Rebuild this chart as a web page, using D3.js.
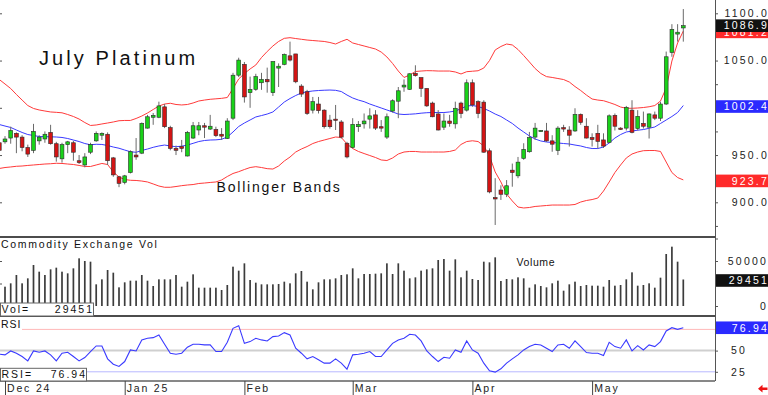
<!DOCTYPE html>
<html>
<head>
<meta charset="utf-8">
<script src="https://cdn.jsdelivr.net/npm/d3@7"></script>
<style>
  body { margin: 0; background: #fff; }
  text { font-family: "Liberation Sans", Arial, sans-serif; }
</style>
</head>
<body>
<svg id="chart" width="768" height="395"></svg>
<script>
// July platinum, daily bars from early Dec 24 to late May 25
// bar 0 sits just left of the frame and is mostly clipped

const opens = [963, 964, 968, 973, 969, 958, 955, 965, 967, 974, 962,
  946, 961, 963, 944, 939.5, 953, 965, 971, 972, 947,
  927, 921, 931.5, 950, 952, 978.5, 990, 990, 1001, 979,
  957, 959, 949, 968, 976.5, 981, 977.5, 977, 972, 967.5,
  989, 1034.5, 1046, 1016, 1019.5, 1026.5, 1030, 1016, 1042, 1046,
  1055, 1057, 1023, 1017, 997.5, 1004, 997.5, 987, 988, 985,
  962.5, 958, 980, 983, 988, 992.5, 980, 969, 996.5, 1007,
  1022, 1019.5, 1036.5, 1032, 1020.5, 1005, 993.5, 979.5, 986, 983,
  1005, 997.5, 1026.5, 1006.5, 1006, 954.5, 905, 913, 908.5, 934,
  928, 946.5, 953.5, 969, 975.5, 975.5, 965, 955, 979, 976.5,
  975.5, 993, 980.5, 968.5, 973, 966, 963.5, 992, 978.5, 978.5,
  997.5, 978, 983.5, 979.5, 992.5, 989, 1004, 1058.5, 1078, 1084.5];

const highs = [964, 970, 980, 974, 971, 961, 983, 971, 975, 982, 964,
  963, 965, 965, 950, 952, 963, 975, 974, 974, 948,
  928, 929, 955, 968, 984.5, 992.5, 994.5, 1006.5, 1004, 981,
  960, 966, 975.5, 985, 985, 984, 992.5, 980, 978.5, 989,
  1037, 1053, 1048.5, 1033, 1036, 1037, 1042.5, 1049, 1047, 1057.5,
  1070, 1057, 1025, 1019, 1011.5, 1011.5, 998.5, 992.5, 1003, 987,
  964, 989, 986, 994, 999.5, 997.5, 987, 994, 1009, 1022,
  1030, 1036.5, 1045, 1032, 1020.5, 1006.5, 997.5, 994, 992.5, 1006.5,
  1006.5, 1030, 1030, 1008, 1008, 957, 925.5, 918, 923.5, 941,
  948, 962.5, 974.5, 984, 976.5, 984, 971, 980.5, 982, 980.5,
  999.5, 994, 989, 973, 982, 973, 993, 994, 979.5, 1002,
  1008, 997.5, 996, 994, 996, 1006.5, 1059.5, 1088.5, 1088.5, 1104.5];

const lows = [948, 962, 962, 952, 954, 948, 952, 961, 963, 961, 943,
  942, 952, 944, 940.5, 937, 951, 964, 966, 939.5, 927,
  916, 919, 930.5, 945, 951, 978, 982, 989, 978.5, 955,
  950, 953, 948.5, 967, 971, 968, 976.5, 969, 966, 967,
  987, 1032.5, 1005.5, 1000, 1018, 1019, 1016, 1012.5, 1022, 1045,
  1049, 1026, 1011.5, 992.5, 994, 994, 978, 978, 976.5, 967.5,
  946.5, 957, 974.5, 978, 978, 976.5, 974.5, 967, 995, 989,
  1017, 1019, 1033, 1011.5, 1001, 990, 976, 976.5, 980, 978,
  989, 996, 1001, 989, 952.5, 909.5, 876, 902.5, 905.5, 916.5,
  925.5, 945, 952.5, 966, 975, 964, 953.5, 950, 974.5, 959,
  974.5, 982, 967.5, 959, 957, 957.5, 962.5, 976, 976.5, 976,
  973, 976, 978, 967.5, 987, 986, 1003, 1054, 1070, 1070];

const closes = [955, 967, 976, 969, 958, 951, 975, 969, 972, 962, 948,
  961, 964, 953, 942, 948, 961, 973, 973, 944, 929,
  920, 928, 953.5, 948, 983.5, 990.5, 992, 1002, 980, 957,
  955, 957, 974, 981, 981, 979.5, 980.5, 970.5, 970, 986,
  1034.5, 1050.5, 1011.5, 1019.5, 1033, 1030, 1027.5, 1049, 1044, 1056.5,
  1050.5, 1027.5, 1014.5, 994, 1006.5, 997, 980, 980, 987, 969,
  948, 982.5, 982.5, 986, 991.5, 978.5, 978.5, 990.5, 1007.5, 1018,
  1024, 1036, 1034, 1020.5, 1002, 990.5, 976.5, 986, 983.5, 999.5,
  994, 1026.5, 1003, 994, 953, 911, 903.5, 908.5, 917.5, 931.5,
  942.5, 956, 968.5, 978.5, 976, 965, 961.5, 978.5, 977.5, 971,
  993, 984.5, 968, 966.5, 964.5, 959.5, 991.5, 980.5, 977, 1000.5,
  974, 991, 980.5, 993.5, 989, 1004, 1054, 1083, 1080, 1086.9];

const upperBand = [1029.9, 1025.2, 1020.4, 1014.1, 1008.2, 1002.4, 999.3, 997.7, 996.6, 995.6, 995.2,
  994.7, 992.9, 990.8, 988.1, 984.4, 981.3, 981.8, 982.9, 983.9, 985.0,
  986.3, 986.6, 986.6, 988.7, 991.3, 994.5, 998.2, 1001.9, 1004.0, 1004.8,
  1003.5, 1003.0, 1003.5, 1005.1, 1007.2, 1008.2, 1009.0, 1009.5, 1010.0, 1010.9,
  1020.4, 1030.5, 1036.3, 1041.1, 1045.3, 1053.2, 1059.6, 1065.4, 1070.2, 1073.5,
  1074.2, 1073.3, 1072.5, 1071.7, 1071.2, 1070.7, 1070.2, 1069.1, 1067.5, 1070.2,
  1072.5, 1068.6, 1067.0, 1065.4, 1063.8, 1062.2, 1059.0, 1053.8, 1046.9, 1038.9,
  1032.1, 1034.7, 1038.4, 1038.9, 1039.3, 1039.2, 1038.9, 1038.9, 1038.9, 1037.9,
  1035.8, 1038.2, 1038.7, 1039.2, 1042.1, 1050.0, 1061.2, 1064.9, 1067.5, 1066.5,
  1061.7, 1055.3, 1048.5, 1041.6, 1036.3, 1033.0, 1032.1, 1031.0, 1029.9, 1027.3,
  1022.5, 1018.3, 1013.5, 1009.3, 1008.2, 1007.5, 1005.6, 1003.5, 1000.8, 999.5,
  999.5, 999.8, 1000.3, 1001.1, 1002.4, 1007.2, 1021.0, 1049.5, 1068.6, 1081.2];

const midBand = [982.3, 980.7, 979.2, 976.5, 973.9, 971.7, 970.7, 969.6, 969.4, 969.3, 969.1,
  968.6, 967.5, 965.9, 964.3, 962.2, 960.9, 961.4, 961.2, 960.1, 958.5,
  957.2, 955.3, 953.5, 952.9, 954.8, 956.4, 958.2, 959.6, 960.6, 959.6,
  958.8, 959.4, 960.6, 962.4, 964.3, 965.4, 965.9, 966.1, 966.7, 969.1,
  974.4, 980.2, 983.9, 987.1, 990.3, 991.8, 993.4, 995.6, 1000.8, 1006.1,
  1009.8, 1013.0, 1015.7, 1017.0, 1017.8, 1018.3, 1018.6, 1018.8, 1018.5, 1017.2,
  1013.5, 1010.4, 1008.2, 1006.5, 1004.0, 1001.9, 999.8, 997.7, 995.6, 993.4,
  992.9, 993.2, 993.6, 994.3, 994.8, 995.0, 995.0, 995.0, 995.6, 996.6,
  999.0, 1001.9, 1002.4, 1001.4, 999.3, 996.6, 993.4, 990.8, 987.1, 983.4,
  978.6, 974.4, 970.2, 967.0, 964.9, 963.8, 963.3, 962.8, 962.2, 961.7,
  960.6, 959.6, 958.0, 956.9, 956.9, 958.5, 962.8, 968.0, 971.7, 974.4,
  975.4, 976.3, 977.0, 978.3, 979.7, 983.4, 987.1, 990.8, 995.0, 1002.4];

const lowerBand = [935.8, 936.8, 937.4, 938.1, 938.4, 939.0, 939.5, 940.0, 940.5, 940.8, 941.3,
  941.1, 940.5, 940.0, 939.0, 937.9, 937.9, 939.5, 941.1, 940.0, 932.1,
  926.8, 924.1, 923.3, 923.1, 922.5, 921.5, 919.4, 917.2, 915.9, 915.9,
  916.7, 917.6, 918.3, 918.8, 919.9, 920.4, 921.0, 921.5, 923.6, 927.3,
  930.5, 932.4, 934.7, 936.8, 937.7, 936.8, 935.6, 935.2, 938.4, 943.7,
  947.9, 953.2, 956.4, 959.0, 962.2, 964.3, 965.9, 967.5, 969.1, 968.6,
  961.7, 956.9, 953.8, 951.6, 949.5, 947.4, 944.8, 944.2, 946.9, 951.1,
  953.2, 953.8, 953.8, 953.2, 953.2, 953.2, 953.2, 953.2, 953.8, 955.3,
  961.2, 964.3, 965.1, 964.3, 959.6, 949.0, 932.1, 921.5, 908.8, 901.4,
  895.0, 894.0, 894.5, 895.6, 896.1, 896.6, 897.1, 897.1, 897.1, 897.1,
  897.7, 900.3, 901.9, 902.9, 904.5, 911.9, 921.5, 931.5, 939.5, 946.9,
  951.1, 953.2, 954.6, 954.8, 954.8, 953.8, 942.6, 931.5, 926.2, 923.7];

const volumes = [null, 21480, 25190, 34440, 25190, 30740, 45550, 38140, 34440, 40740, 42590,
  38140, 36290, 41850, 52960, 50000, 49250, 24070, 29630, 40000, 37030,
  20740, 26300, 28150, 28150, 34440, 28150, 22220, 29630, 29630, 29630,
  34440, 21480, 27040, 35180, 20370, 20370, 20370, 20370, 17780, 23330,
  43700, 39260, 47400, 28890, 25930, 24070, 24070, 24070, 24440, 27040,
  25190, 36290, 38890, 27040, 18520, 26300, 29630, 29630, 30740, 34440,
  35180, 41850, 30740, 35550, 35550, 35920, 36290, 47400, 35550, 47400,
  39260, 30740, 31850, 39260, 40740, 41850, 51110, 52220, 39260, 51850,
  31850, 39260, 30000, 28890, 49250, 48520, 54070, 27780, 30000, 29630,
  31850, 30740, 20370, 24070, 22220, 20740, 25190, 28150, 17040, 24070,
  27040, 22220, 23330, 22590, 22590, 21480, 28890, 22590, 23330, 29630,
  37400, 22590, 23330, 25190, 20370, 31480, 57770, 65920, 49250, 29451];

const rsiValues = [45.7, 45.0, 49.6, 46.9, 43.0, 37.9, 49.6, 48.1, 49.6, 45.0, 37.9,
  46.9, 48.1, 43.0, 37.9, 41.8, 48.9, 55.5, 55.5, 40.3, 34.0,
  31.3, 37.1, 50.8, 49.6, 62.6, 64.5, 65.3, 68.4, 57.5, 46.9,
  45.7, 46.9, 54.0, 57.5, 57.5, 56.7, 56.7, 48.9, 48.9, 59.8,
  76.3, 79.4, 58.6, 60.6, 64.5, 62.6, 61.4, 66.5, 67.3, 71.2,
  68.4, 52.8, 46.9, 40.3, 43.0, 39.1, 35.2, 35.2, 40.3, 35.2,
  28.1, 45.0, 45.7, 46.9, 48.9, 43.0, 43.0, 50.8, 58.6, 62.6,
  64.5, 69.2, 68.4, 61.4, 49.6, 43.0, 37.1, 42.2, 41.0, 50.8,
  48.1, 61.4, 50.8, 46.9, 35.2, 26.2, 24.6, 28.5, 35.2, 40.3,
  45.0, 50.8, 54.7, 57.5, 56.7, 52.8, 48.9, 56.7, 57.5, 52.8,
  61.4, 54.7, 47.7, 46.9, 46.9, 44.2, 59.8, 54.7, 52.8, 62.6,
  49.6, 55.9, 50.8, 56.7, 54.7, 60.6, 73.1, 77.0, 75.1, 76.94];

const monthLabels = ["Dec 24", "Jan 25", "Feb", "Mar", "Apr", "May"];
const monthBars = [1, 22, 43, 62, 83, 104];
const priceLabels = [900, 950, 1050, 1100];
const volLabels = [0, 50000];
const rsiLabels = [25, 50];
const rsiLevels = [25, 50, 75];

const last = (arr) => arr[arr.length - 1];

const svg = d3.select("#chart");
const plotRight = 715;
const mainBottom = 237, volBottom = 316, rsiBottom = 381;

const xScale = d3.scaleLinear().domain([0, 125]).range([-0.7, 711.8]);
const yPrice = d3.scaleLinear().domain([900, 1100]).range([202.3, 13.3]);
const yVol = d3.scaleLinear().domain([0, 50000]).range([306, 261]);
const yRsi = d3.scaleLinear().domain([25, 75]).range([371.8, 329.4]);

const defs = svg.append("defs");
[["clipMain", 0, mainBottom], ["clipVol", mainBottom, volBottom], ["clipRsi", volBottom, rsiBottom]]
  .forEach(([id, y0, y1]) => {
    defs.append("clipPath").attr("id", id)
      .append("rect").attr("x", 0).attr("y", y0).attr("width", plotRight).attr("height", y1 - y0);
  });

// ---- price pane
const main = svg.append("g").attr("clip-path", "url(#clipMain)");

const bandLine = d3.line().x((d, j) => xScale(j)).y(d => yPrice(d));
main.selectAll(".band")
  .data([[upperBand, "#ff3a3a"], [lowerBand, "#ff3a3a"], [midBand, "#3a3aff"]])
  .join("path")
  .attr("class", "band")
  .attr("d", d => bandLine(d[0]))
  .attr("fill", "none")
  .attr("stroke", d => d[1])
  .attr("stroke-width", 1);

const bars = closes.map((c, j) => ({ j, o: opens[j], h: highs[j], l: lows[j], c }));

main.append("g").selectAll("line").data(bars).join("line")
  .attr("x1", d => xScale(d.j)).attr("x2", d => xScale(d.j))
  .attr("y1", d => yPrice(d.h)).attr("y2", d => yPrice(d.l))
  .attr("stroke", "#6a6a6a")
  .attr("stroke-width", 1);

main.append("g").selectAll("rect").data(bars).join("rect")
  .attr("x", d => xScale(d.j) - 1.9)
  .attr("width", 3.8)
  .attr("y", d => yPrice(Math.max(d.o, d.c)))
  .attr("height", d => Math.max(1.2, Math.abs(yPrice(d.o) - yPrice(d.c))))
  .attr("fill", d => d.c >= d.o ? "#19d219" : "#d41414")
  .attr("stroke", "#2b2b2b")
  .attr("stroke-width", 0.6);

svg.append("text").attr("x", 39).attr("y", 65)
  .attr("font-size", 20).attr("letter-spacing", 3.1).attr("fill", "#111")
  .text("July Platinum");
svg.append("text").attr("x", 216.5).attr("y", 191.7)
  .attr("font-size", 14).attr("letter-spacing", 1.8).attr("fill", "#111")
  .text("Bollinger Bands");

// ---- volume pane
const vol = svg.append("g").attr("clip-path", "url(#clipVol)");
vol.selectAll("rect").data(volumes.map((v, j) => ({ v, j })).filter(d => d.v != null))
  .join("rect")
  .attr("x", d => xScale(d.j) - 0.85)
  .attr("width", 1.7)
  .attr("y", d => yVol(d.v))
  .attr("height", d => yVol(0) - yVol(d.v))
  .attr("fill", "#3c3c3c");

svg.append("text").attr("x", 1).attr("y", 247.7)
  .attr("font-size", 10.5).attr("letter-spacing", 1.7).attr("fill", "#111")
  .text("Commodity Exchange Vol");
svg.append("text").attr("x", 516.5).attr("y", 265.5)
  .attr("font-size", 10.5).attr("letter-spacing", 0.6).attr("fill", "#111")
  .text("Volume");

// ---- RSI pane
const rsi = svg.append("g").attr("clip-path", "url(#clipRsi)");
rsi.selectAll(".lvl").data(rsiLevels).join("line")
  .attr("class", "lvl")
  .attr("x1", d => d === 75 ? 22 : 0).attr("x2", plotRight)
  .attr("y1", d => yRsi(d)).attr("y2", d => yRsi(d))
  .attr("stroke", d => d === 75 ? "#ffb8b8" : d === 50 ? "#cfcfcf" : "#b8b8ff")
  .attr("stroke-width", d => d === 50 ? 2 : 1);

rsi.append("path")
  .attr("d", d3.line().x((d, j) => xScale(j)).y(d => yRsi(d))(rsiValues))
  .attr("fill", "none")
  .attr("stroke", "#3a3aff")
  .attr("stroke-width", 1.1);

svg.append("text").attr("x", 1).attr("y", 328.3)
  .attr("font-size", 10.5).attr("letter-spacing", 1).attr("fill", "#111")
  .text("RSI");

// ---- frame lines
svg.selectAll(".sep").data([mainBottom, volBottom, rsiBottom]).join("line")
  .attr("class", "sep")
  .attr("x1", 0).attr("x2", plotRight)
  .attr("y1", d => d).attr("y2", d => d)
  .attr("stroke", "#111")
  .attr("stroke-width", d => d === rsiBottom ? 1 : 1.5);

svg.append("line")
  .attr("x1", plotRight + 0.5).attr("x2", plotRight + 0.5)
  .attr("y1", 0).attr("y2", rsiBottom)
  .attr("stroke", "#555");

// small ticks on the right edge of each pane
function edgeTicks(scale, values, x, size, axis) {
  const g = svg.append("g").attr("transform", `translate(${x},0)`)
    .call(axis(scale).tickValues(values).tickSize(size).tickFormat(() => ""));
  g.select(".domain").remove();
  g.selectAll("line").attr("stroke", "#555");
}
edgeTicks(yPrice, d3.range(875, 1101, 25), plotRight, 3, d3.axisRight);
edgeTicks(yVol, [0, 25000, 50000, 75000], plotRight, 3, d3.axisRight);
edgeTicks(yRsi, rsiLevels, plotRight, 3, d3.axisRight);
edgeTicks(yPrice, d3.range(900, 1101, 50), 0, 2, d3.axisRight);
edgeTicks(yVol, [25000, 50000], 0, 2, d3.axisRight);

// ---- right-hand labels
function labels(scale, values, fmt, x, anchor) {
  const g = svg.append("g").attr("transform", `translate(${x},0)`)
    .call((anchor === "end" ? d3.axisLeft(scale) : d3.axisRight(scale))
      .tickValues(values).tickFormat(fmt).tickSize(0).tickPadding(0));
  g.select(".domain").remove();
  g.selectAll("text").attr("font-size", 10.5).attr("letter-spacing", 2.2).attr("fill", "#222");
}
labels(yPrice, priceLabels, d3.format(".1f"), 769, "end");
labels(yVol, volLabels, d3.format("d"), 768, "end");
labels(yRsi, rsiLabels, d3.format("d"), 731, "start");

const tags = [
  { v: last(upperBand), y: yPrice, fill: "#ff2a2a", fmt: d3.format(".1f"), dy: 0.8 },
  { v: last(closes), y: yPrice, fill: "#111111", fmt: d3.format(".1f"), dy: 0 },
  { v: last(midBand), y: yPrice, fill: "#2a2aff", fmt: d3.format(".1f"), dy: 1 },
  { v: last(lowerBand), y: yPrice, fill: "#ff2a2a", fmt: d3.format(".1f"), dy: 1 },
  { v: last(volumes), y: yVol, fill: "#111111", fmt: d3.format("d"), dy: 1 },
  { v: last(rsiValues), y: yRsi, fill: "#2a2aff", fmt: d3.format(".2f"), dy: 0 }
];
const tag = svg.selectAll(".tag").data(tags).join("g").attr("class", "tag");
tag.append("rect")
  .attr("x", plotRight + 1).attr("width", 768 - plotRight - 1)
  .attr("y", d => d.y(d.v) + d.dy - 6.3).attr("height", 12.6)
  .attr("fill", d => d.fill);
tag.append("text")
  .attr("x", 769).attr("y", d => d.y(d.v) + d.dy + 3.8)
  .attr("text-anchor", "end")
  .attr("font-size", 10.5).attr("letter-spacing", 2.2).attr("fill", "#fff")
  .text(d => d.fmt(d.v));

// ---- value boxes at the lower left of the sub panes
const boxes = [
  { name: "Vol=", v: d3.format("d")(last(volumes)), y0: 303, y1: volBottom, w: 93 },
  { name: "RSI=", v: d3.format(".2f")(last(rsiValues)), y0: 368.3, y1: rsiBottom, w: 86 }
];
const box = svg.selectAll(".box").data(boxes).join("g").attr("class", "box");
box.append("rect")
  .attr("x", 0.5).attr("y", d => d.y0).attr("width", d => d.w).attr("height", d => d.y1 - d.y0)
  .attr("fill", "#fff").attr("stroke", "#666");
box.append("text").attr("x", 1.5).attr("y", d => d.y1 - 3.2)
  .attr("font-size", 10.5).attr("letter-spacing", 2).attr("fill", "#111").text(d => d.name);
box.append("text").attr("x", d => d.w + 1).attr("y", d => d.y1 - 3.2).attr("text-anchor", "end")
  .attr("font-size", 10.5).attr("letter-spacing", 2).attr("fill", "#111").text(d => d.v);

// ---- month axis
const xAxis = svg.append("g").attr("transform", `translate(0,${rsiBottom})`)
  .call(d3.axisBottom(xScale).tickValues(monthBars)
    .tickFormat((d, i) => monthLabels[i]).tickSize(14));
xAxis.select(".domain").remove();
xAxis.selectAll("line").attr("stroke", "#444");
xAxis.selectAll("text")
  .attr("text-anchor", "start").attr("x", 1.6).attr("y", 11.3).attr("dy", 0)
  .attr("font-size", 10.5).attr("letter-spacing", 1.8).attr("fill", "#222");

// red scroll arrow, bottom right
svg.append("path")
  .attr("d", "M758,388.7 L762.5,384.8 L762.5,387.4 L767.5,387.4 L767.5,390 L762.5,390 L762.5,392.6 Z")
  .attr("fill", "#ee1111");
</script>
</body>
</html>
